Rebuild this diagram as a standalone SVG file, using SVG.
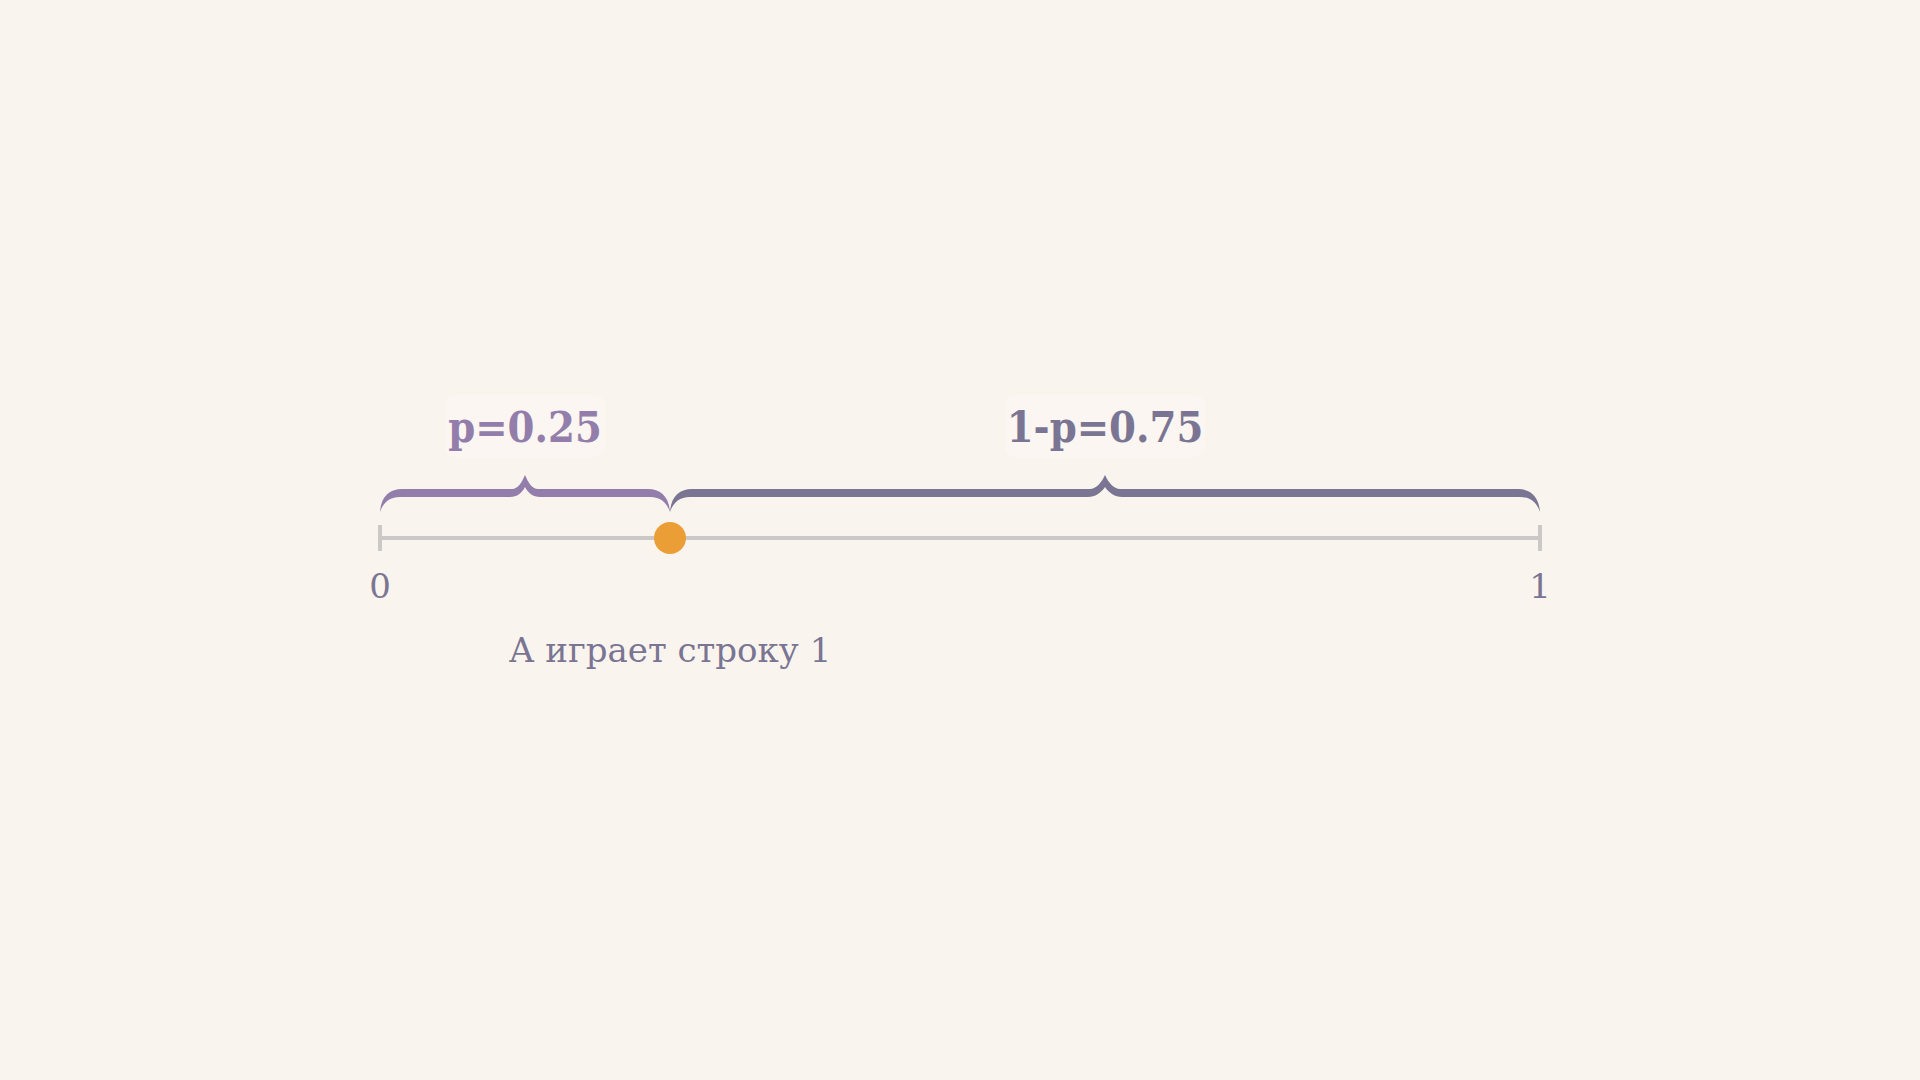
<svg xmlns="http://www.w3.org/2000/svg" width="1920" height="1080" viewBox="0 0 1920 1080">
<style>
.bg{fill:#FAF4EE}
.axis{stroke:#CDC8C8;stroke-width:4;fill:none}
.lbl{font-family:"DejaVu Serif","Liberation Serif",serif;font-size:34px;fill:#7A7593;text-anchor:middle}
.big{font-family:"DejaVu Serif Condensed","DejaVu Serif",serif;font-weight:bold;font-size:43px;text-anchor:middle}
.halo{fill:#FBF6F1}
</style>
<rect class="bg" x="0" y="0" width="1920" height="1080"/>
<g id="axis">
<line class="axis" x1="380" y1="538" x2="1540" y2="538"/>
<line class="axis" x1="380" y1="525" x2="380" y2="551"/>
<line class="axis" x1="1540" y1="525" x2="1540" y2="551"/>
</g>
<g id="connectors">
<path id="brace-p" fill="#937EAB" d="M380,512 C381,496 390,489 402,489 L512,489 C518,489 522,482 525,475 C528,482 532,489 538,489 L648,489 C660,489 669,496 670,512 C667,503 661,497 650,497 L540,497 C533,497 528,493 525,487 C522,493 517,497 510,497 L400,497 C389,497 383,503 380,512 Z"/>
<path id="brace-q" fill="#7A7593" d="M670,512 C671,496 680,489 692,489 L1090,489 C1096,489 1102,482 1105,475 C1108,482 1114,489 1120,489 L1518,489 C1530,489 1539,496 1540,512 C1537,503 1531,497 1520,497 L1122,497 C1115,497 1109,493 1105,487 C1101,493 1095,497 1088,497 L690,497 C679,497 673,503 670,512 Z"/>
</g>
<g id="node-point">
<circle cx="670" cy="538" r="16" fill="#EB9E35"/>
</g>
<g id="label-p">
<rect class="halo" x="445" y="395" width="160" height="62" rx="10"/>
<text class="big" x="525" y="442" fill="#937EAB">p=0.25</text>
</g>
<g id="label-q">
<rect class="halo" x="1005" y="395" width="200" height="62" rx="10"/>
<text class="big" x="1105" y="442" fill="#7A7593">1-p=0.75</text>
</g>
<g id="label-0">
<text class="lbl" x="380" y="598">0</text>
</g>
<g id="label-1">
<text class="lbl" x="1540" y="598">1</text>
</g>
<g id="label-a">
<text class="lbl" x="670" y="662">А играет строку 1</text>
</g>
</svg>
